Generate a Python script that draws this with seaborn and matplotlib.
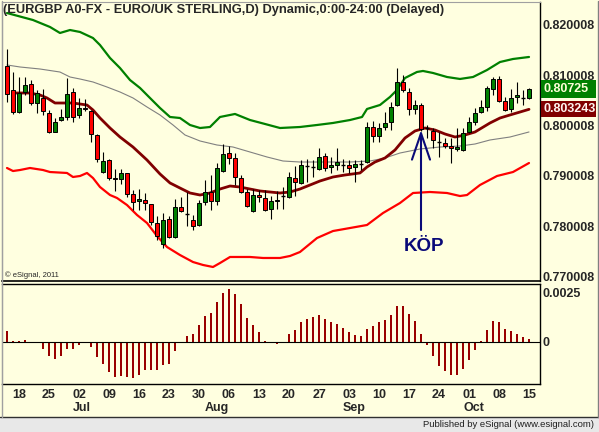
import numpy as np
import pandas as pd
import matplotlib
matplotlib.use("Agg")
import matplotlib.pyplot as plt
import seaborn as sns
from matplotlib.transforms import blended_transform_factory
from matplotlib.patches import Rectangle
from matplotlib.lines import Line2D

# ---------------- data ----------------
dates = pd.bdate_range("2012-06-14", "2012-10-15")

opens = [0.81186, 0.80709, 0.80271, 0.80669, 0.80828, 0.80450, 0.80550, 0.80251, 0.79874, 0.80112,
         0.80172, 0.80669, 0.80212, 0.80351, 0.80291, 0.79814, 0.79078, 0.79317, 0.78959, 0.78939,
         0.79059, 0.78641, 0.78502, 0.78522, 0.78442, 0.78065, 0.77647, 0.78144, 0.77786, 0.78383,
         0.78244, 0.78124, 0.78025, 0.78482, 0.78681, 0.78502, 0.79098, 0.79456, 0.79357, 0.78959,
         0.78681, 0.78303, 0.78621, 0.78562, 0.78343, 0.78502, 0.78601, 0.78581, 0.78959, 0.78860,
         0.79198, 0.79178, 0.79138, 0.79397, 0.79178, 0.79218, 0.79218, 0.79218, 0.79178, 0.79238,
         0.79277, 0.79973, 0.79794, 0.79973, 0.80072, 0.80410, 0.80868, 0.80669, 0.80331, 0.80410,
         0.79953, 0.79894, 0.79675, 0.79655, 0.79595, 0.79536, 0.79516, 0.79874, 0.80072, 0.80271,
         0.80371, 0.80729, 0.80927, 0.80490, 0.80331, 0.80569, 0.80550, 0.80550]
highs = [0.81524, 0.81066, 0.80967, 0.80967, 0.80907, 0.80709, 0.80729, 0.80311, 0.80152, 0.80331,
         0.80947, 0.80748, 0.80550, 0.80530, 0.80311, 0.79834, 0.79476, 0.79337, 0.79138, 0.79138,
         0.79059, 0.78721, 0.78741, 0.78661, 0.78442, 0.78204, 0.78263, 0.78204, 0.78542, 0.78581,
         0.78681, 0.78224, 0.78522, 0.78919, 0.79019, 0.79257, 0.79635, 0.79595, 0.79456, 0.79019,
         0.78741, 0.78741, 0.78721, 0.78721, 0.78601, 0.78701, 0.78780, 0.79078, 0.79198, 0.79317,
         0.79337, 0.79317, 0.79556, 0.79456, 0.79377, 0.79556, 0.79337, 0.79317, 0.79317, 0.79317,
         0.80072, 0.80092, 0.80053, 0.80271, 0.80470, 0.81146, 0.81007, 0.80748, 0.80510, 0.80450,
         0.80013, 0.79953, 0.79874, 0.79754, 0.79754, 0.79953, 0.79953, 0.80172, 0.80351, 0.80510,
         0.80788, 0.80967, 0.80987, 0.80569, 0.80729, 0.80868, 0.80709, 0.80748]
lows = [0.80470, 0.80232, 0.80251, 0.80609, 0.80410, 0.80251, 0.80212, 0.79854, 0.79874, 0.80092,
        0.80112, 0.80072, 0.80152, 0.80291, 0.79675, 0.79277, 0.79059, 0.78919, 0.78701, 0.78840,
        0.78581, 0.78323, 0.78323, 0.78323, 0.78025, 0.77727, 0.77568, 0.77766, 0.77766, 0.78283,
        0.78005, 0.77925, 0.78005, 0.78422, 0.78323, 0.78422, 0.79078, 0.79238, 0.78820, 0.78661,
        0.78383, 0.78283, 0.78482, 0.78303, 0.78144, 0.78343, 0.78343, 0.78562, 0.78601, 0.78840,
        0.78880, 0.78979, 0.79118, 0.79098, 0.79059, 0.79118, 0.79078, 0.79059, 0.78880, 0.79118,
        0.79257, 0.79675, 0.79675, 0.79913, 0.79913, 0.80391, 0.80669, 0.80212, 0.80232, 0.79894,
        0.79754, 0.79556, 0.79377, 0.79556, 0.79257, 0.79496, 0.79496, 0.79854, 0.80013, 0.80251,
        0.80291, 0.80609, 0.80470, 0.80291, 0.80271, 0.80450, 0.80410, 0.80530]
closes = [0.80629, 0.80271, 0.80649, 0.80808, 0.80450, 0.80649, 0.80291, 0.79874, 0.80072, 0.80172,
          0.80629, 0.80172, 0.80351, 0.80331, 0.79834, 0.79337, 0.79297, 0.78959, 0.78939, 0.79059,
          0.78641, 0.78482, 0.78542, 0.78462, 0.78084, 0.77806, 0.78124, 0.77786, 0.78383, 0.78303,
          0.78244, 0.78005, 0.78462, 0.78681, 0.78502, 0.79158, 0.79436, 0.79357, 0.78979, 0.78681,
          0.78403, 0.78621, 0.78581, 0.78323, 0.78502, 0.78522, 0.78601, 0.78979, 0.78880, 0.79218,
          0.79198, 0.79178, 0.79377, 0.79158, 0.79218, 0.79277, 0.79218, 0.79158, 0.79238, 0.79238,
          0.79973, 0.79794, 0.79953, 0.80053, 0.80371, 0.80868, 0.80709, 0.80331, 0.80410, 0.79933,
          0.79953, 0.79715, 0.79675, 0.79595, 0.79556, 0.79575, 0.79854, 0.80072, 0.80251, 0.80371,
          0.80748, 0.80927, 0.80490, 0.80311, 0.80550, 0.80609, 0.80550, 0.80725]

osc_hist = [0.00058, 0.00007, 0.00007, 0.00012, -0.00005, -0.00002, -0.00034, -0.00073, -0.00085, -0.00073,
            -0.00034, -0.00034, -0.00017, -0.00002, -0.00027, -0.00078, -0.00111, -0.00155, -0.00180, -0.00175,
            -0.00180, -0.00185, -0.00167, -0.00141, -0.00141, -0.00145, -0.00116, -0.00111, -0.00044, 0.00002,
            0.00032, 0.00043, 0.00088, 0.00134, 0.00148, 0.00204, 0.00250, 0.00272, 0.00245, 0.00196,
            0.00122, 0.00088, 0.00051, 0.00007, -0.00005, -0.00010, 0.00002, 0.00043, 0.00063, 0.00100,
            0.00119, 0.00126, 0.00139, 0.00119, 0.00102, 0.00094, 0.00071, 0.00049, 0.00037, 0.00029,
            0.00068, 0.00083, 0.00100, 0.00114, 0.00139, 0.00185, 0.00185, 0.00145, 0.00109, 0.00043,
            -0.00014, -0.00070, -0.00121, -0.00150, -0.00167, -0.00167, -0.00136, -0.00090, -0.00039, 0.00007,
            0.00063, 0.00109, 0.00100, 0.00068, 0.00058, 0.00043, 0.00024, 0.00017]

# band lines: bar position (trading-day number) and value
upper_day = [0, 4.33, 7.17, 8.83, 10.5, 12.17, 14.33, 15.5, 17.17, 18.83, 20.5, 22.17, 23.83, 25.5, 27.17,
             28.83, 30.5, 32.17, 33.83, 35.5, 38, 40.5, 43, 45.5, 48.83, 51.67, 54.33, 57.17, 59.17, 60,
             62.17, 63.83, 65, 66.33, 68.33, 69.33, 71, 73.33, 75.5, 77.67, 80, 82.17, 84.33, 87]
upper_val = [0.82239, 0.82100, 0.81961, 0.81842, 0.81901, 0.81862, 0.81742, 0.81603, 0.81345, 0.81146,
             0.80907, 0.80749, 0.80550, 0.80351, 0.80172, 0.80152, 0.80013, 0.79953, 0.79973, 0.80172,
             0.80232, 0.80112, 0.80033, 0.79953, 0.79973, 0.80013, 0.80053, 0.80112, 0.80172, 0.80331,
             0.80411, 0.80570, 0.80709, 0.80947, 0.81067, 0.81087, 0.81047, 0.80967, 0.80928, 0.80967,
             0.81106, 0.81265, 0.81325, 0.81365]
lower_day = [0, 1, 2.17, 3.83, 6, 7.17, 10, 11, 12.17, 13.33, 14.33, 15.5, 17.17, 18.33, 20, 21.67, 23.33,
             25, 26.67, 28.83, 31, 32.67, 34.33, 35.5, 37.17, 40.5, 42.67, 45.5, 47.17, 48.83, 51.67, 54.33,
             57.17, 60, 62.67, 65.5, 67.67, 70.5, 73.33, 75.5, 76.67, 78.83, 81.67, 84.33, 87]
lower_val = [0.79158, 0.79098, 0.79118, 0.79158, 0.79118, 0.79078, 0.79059, 0.78979, 0.78999, 0.79059,
             0.78959, 0.78780, 0.78621, 0.78562, 0.78422, 0.78224, 0.78065, 0.77806, 0.77587, 0.77428,
             0.77289, 0.77230, 0.77190, 0.77269, 0.77389, 0.77389, 0.77369, 0.77369, 0.77409, 0.77488,
             0.77766, 0.77905, 0.77965, 0.78025, 0.78263, 0.78462, 0.78661, 0.78681, 0.78661, 0.78601,
             0.78621, 0.78820, 0.78999, 0.79078, 0.79257]
mid_day = [1, 3.83, 5.5, 6.67, 8, 9.33, 11, 12.17, 13.33, 14.33, 15.5, 17.17, 18.83, 21, 23.33, 25.5, 27.17,
           28.83, 30.5, 32.17, 33.83, 35.5, 37.17, 38.83, 40.5, 42.17, 43.83, 45.5, 47.17, 48.83, 50.5, 52.17,
           54.33, 56.33, 58.83, 60, 61.33, 63, 64.67, 66.33, 68, 69.67, 71.33, 73, 74.67, 76.33, 78, 80.5,
           82.17, 83.83, 85.5, 87]
mid_val = [0.80649, 0.80649, 0.80609, 0.80550, 0.80450, 0.80450, 0.80450, 0.80430, 0.80410, 0.80311,
           0.80152, 0.79953, 0.79774, 0.79575, 0.79317, 0.79039, 0.78860, 0.78760, 0.78661, 0.78621,
           0.78661, 0.78740, 0.78800, 0.78780, 0.78740, 0.78701, 0.78681, 0.78661, 0.78681, 0.78740,
           0.78820, 0.78900, 0.78979, 0.79019, 0.79059, 0.79178, 0.79277, 0.79357, 0.79516, 0.79754,
           0.79894, 0.79953, 0.79913, 0.79834, 0.79774, 0.79814, 0.79874, 0.80053, 0.80152, 0.80212,
           0.80271, 0.803243]
slow_day = [0, 2.17, 5.5, 8.83, 10.5, 12.17, 14.33, 16.67, 18.83, 21, 23.33, 25.5, 27.67, 29.67, 32.17, 35,
            37.67, 40.5, 43.33, 46, 48.83, 52.17, 57.17, 60.5, 63, 65.5, 68.83, 72.17, 75.5, 78, 80.5, 83.83, 87]
slow_val = [0.81206, 0.81166, 0.81126, 0.81066, 0.80967, 0.80927, 0.80868, 0.80768, 0.80669, 0.80550,
            0.80371, 0.80212, 0.80013, 0.79814, 0.79695, 0.79615, 0.79575, 0.79476, 0.79377, 0.79297,
            0.79277, 0.79277, 0.79277, 0.79297, 0.79357, 0.79456, 0.79536, 0.79575, 0.79595, 0.79635,
            0.79715, 0.79774, 0.79874]

price_ticks = [0.770008, 0.780008, 0.790008, 0.800008, 0.810008, 0.820008]
osc_ticks = [0.0, 0.0025]
osc_tick_labels = ["0", "0.0025"]
week_labels = ["18", "25", "02", "09", "16", "23", "30", "06", "13", "20", "27", "03",
               "10", "17", "24", "01", "08", "15"]
month_labels = ["Jul", "Aug", "Sep", "Oct"]
last_price = 0.80725
mid_last = 0.803243
title = "(EURGBP A0-FX - EURO/UK STERLING,D) Dynamic,0:00-24:00 (Delayed)"
signal_text = "KÖP"
signal_day = 69
signal_tip = 0.79913
signal_tail = 0.77925
signal_label_y = 0.77607

# ---------------- style ----------------
sns.set_style("white")
plt.rcParams["font.family"] = ["Liberation Sans", "DejaVu Sans"]

BG = "#FFFFE0"
GREEN = "#008000"
RED = "#FF0000"
DKRED = "#800000"
NAVY = "#0A0A78"
HIST = "#990000"

W, H = 599, 432
fig = plt.figure(figsize=(W / 100, H / 100), dpi=100, facecolor=BG)


def fx(px):
    return px / W


def fy(py):
    return 1 - py / H


ax = fig.add_axes([fx(2), fy(281), fx(540) - fx(2), fy(2) - fy(281)], facecolor=BG)
ax2 = fig.add_axes([fx(2), fy(384), fx(540) - fx(2), fy(284) - fy(384)], facecolor=BG)

n = len(closes)
idx = np.arange(n)
xlim = (-0.833, 88.833)

# bands
sns.lineplot(x=slow_day, y=slow_val, ax=ax, color="#808080", lw=0.8, estimator=None, sort=False, zorder=1)
sns.lineplot(x=upper_day, y=upper_val, ax=ax, color=GREEN, lw=1.6, estimator=None, sort=False, zorder=1)
sns.lineplot(x=lower_day, y=lower_val, ax=ax, color=RED, lw=1.6, estimator=None, sort=False, zorder=1)
sns.lineplot(x=mid_day, y=mid_val, ax=ax, color=DKRED, lw=2.0, estimator=None, sort=False, zorder=1)

# candles
o = np.array(opens); c = np.array(closes); hi = np.array(highs); lo = np.array(lows)
ax.vlines(idx, lo, hi, color="black", lw=0.8, zorder=2)
body_w = 0.7
for i in range(n):
    if abs(c[i] - o[i]) < 0.00005:
        ax.hlines(o[i], i - body_w / 2, i + body_w / 2, color="black", lw=1.0, zorder=3)
    else:
        col = GREEN if c[i] > o[i] else RED
        ax.bar(i, abs(c[i] - o[i]), bottom=min(o[i], c[i]), width=body_w, color=col,
               edgecolor="black", linewidth=0.7, zorder=3)

ax.set_xlim(*xlim)
ax.set_ylim(0.769115, 0.82458)
ax.set_xticks([])
ax.yaxis.tick_right()
ax.set_yticks(price_ticks)
ax.set_yticklabels([f"{v:.6f}" for v in price_ticks], fontsize=9, fontweight="bold")
ax.tick_params(axis="y", length=0, pad=1.5)
ax.set_xlabel(""); ax.set_ylabel("")
for s in ["left", "top"]:
    ax.spines[s].set_color("#A0A0A0"); ax.spines[s].set_linewidth(0.8)
ax.spines["right"].set_color("black"); ax.spines["right"].set_linewidth(1.0)
ax.spines["bottom"].set_color("black"); ax.spines["bottom"].set_linewidth(1.2)

# signal arrow
ax.annotate("", xy=(signal_day, signal_tip), xytext=(signal_day, signal_tail),
            arrowprops=dict(arrowstyle="->,head_length=1.9,head_width=0.65", color=NAVY, lw=1.5,
                            shrinkA=0, shrinkB=0, mutation_scale=10), zorder=5)
ax.text(signal_day + 0.5, signal_label_y, signal_text, ha="center", va="center", fontsize=13.5,
        fontweight="bold", color=NAVY, zorder=5)

# price boxes
blend = blended_transform_factory(fig.transFigure, ax.transData)
ppx = (0.82458 - 0.769115) / 279.0
for val, col, hh in [(last_price, GREEN, 9), (mid_last, DKRED, 8)]:
    ax.add_patch(Rectangle((fx(541), val - hh * ppx), fx(596) - fx(541), 2 * hh * ppx,
                           transform=blend, facecolor=col, edgecolor="none", clip_on=False, zorder=6))
ax.text(fx(543), last_price, f"{last_price:.5f}", transform=blend, ha="left", va="center",
        fontsize=9, fontweight="bold", color="#FFFFD8", zorder=7, clip_on=False)
ax.text(fx(543), mid_last, f"{mid_last:.6f}", transform=blend, ha="left", va="center",
        fontsize=9, fontweight="bold", color="#FFF4F0", zorder=7, clip_on=False)

# oscillator histogram
ax2.bar(idx, osc_hist, width=0.34, color=HIST, linewidth=0, zorder=2)
ax2.axhline(0, color="black", lw=0.8, zorder=3)
ax2.set_xlim(*xlim)
ax2.set_ylim(-0.002143, 0.002959)
ax2.yaxis.tick_right()
ax2.set_yticks(osc_ticks)
ax2.set_yticklabels(osc_tick_labels, fontsize=9, fontweight="bold")
ax2.tick_params(axis="y", length=0, pad=1.5)
mondays = [i for i, d in enumerate(dates) if d.weekday() == 0]
ax2.set_xticks(mondays)
ax2.set_xticklabels(week_labels, fontsize=9, fontweight="bold")
ax2.set_xticks([m - 1 for m in mondays], minor=True)
ax2.tick_params(axis="x", which="major", length=0, pad=3.5)
ax2.tick_params(axis="x", which="minor", length=3, width=1, color="black", direction="out")
for s in ["top", "right", "bottom"]:
    ax2.spines[s].set_color("black"); ax2.spines[s].set_linewidth(1.0)
ax2.spines["left"].set_color("#A0A0A0"); ax2.spines["left"].set_linewidth(0.8)
ax2.set_xlabel(""); ax2.set_ylabel("")

# month labels (left edge one bar before first trading day of month)
bl2 = blended_transform_factory(ax2.transData, ax2.transAxes)
month_first = []
for m in [7, 8, 9, 10]:
    month_first.append([i for i, d in enumerate(dates) if d.month == m][0])
for lab, fi in zip(month_labels, month_first):
    ax2.text(fi - 1, -0.24, lab, transform=bl2, ha="left", va="center", fontsize=9,
             fontweight="bold", clip_on=False)

# texts
fig.text(fx(3), fy(10.5), title, ha="left", va="center", fontsize=9.3, fontweight="bold", zorder=10)
fig.text(fx(5), fy(275), "© eSignal, 2011", ha="left", va="center", fontsize=5.5, zorder=10)

# frame & footer
fig.add_artist(Rectangle((0, 0), 1, fy(417), transform=fig.transFigure, facecolor="#E8E8E8",
                         edgecolor="none", zorder=0))
fig.add_artist(Line2D([0, 1], [fy(416.5)] * 2, transform=fig.transFigure, color="#303030", lw=1))
fig.add_artist(Line2D([fx(597.5)] * 2, [fy(416.5), fy(1)], transform=fig.transFigure, color="#808080", lw=1))
fig.add_artist(Line2D([fx(1.5)] * 2, [fy(416.5), fy(1)], transform=fig.transFigure, color="#A0A0A0", lw=1))
fig.text(fx(594), fy(424.5), "Published by eSignal (www.esignal.com)", ha="right", va="center",
         fontsize=6.8, color="#202020", zorder=10)

fig.savefig("out.png", dpi=100, facecolor=BG)
